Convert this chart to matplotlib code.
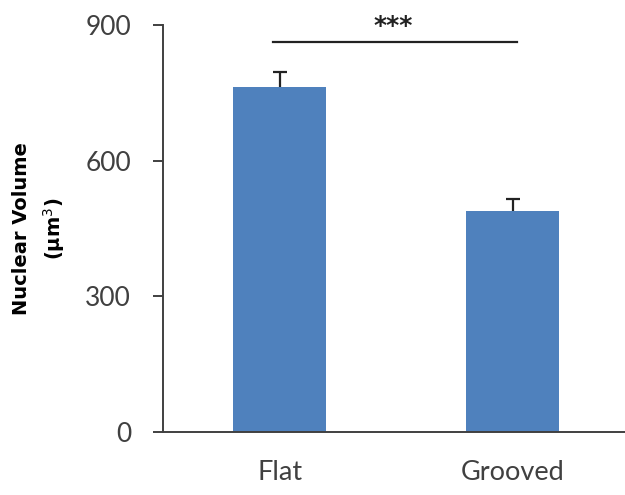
import matplotlib
matplotlib.use("Agg")
import matplotlib.pyplot as plt

categories = ["Flat", "Grooved"]
values = [762, 488]
errors_up = [35, 28]
yticks = [0, 300, 600, 900]
sig_label = "***"

bar_color = "#4F81BD"
text_color = "#404040"

fig = plt.figure(figsize=(6.25, 4.95), dpi=100)
ax = fig.add_axes([0.2608, 0.1273, 0.746, 0.8222])

x = list(range(len(categories)))
ax.bar(x, values, width=0.40, color=bar_color, zorder=2)
eb = ax.errorbar(x, values, yerr=[[0, 0], errors_up], fmt="none", ecolor="#222222",
                 elinewidth=1.6, capsize=5, capthick=1.6, zorder=1)
caplines = eb[1]
if len(caplines) >= 1:
    caplines[0].set_visible(False)

ax.set_xlim(-0.5, 1.5)
ax.set_ylim(0, 900)
ax.set_yticks(yticks)
ax.set_yticklabels([str(v) for v in yticks], fontsize=19, color=text_color, family="Lato")
ax.set_xticks(x)
ax.set_xticklabels(categories, fontsize=19.5, color=text_color, family="Lato")
ax.tick_params(axis="y", length=7, width=1.4, color=text_color, pad=16)
ax.tick_params(axis="x", length=0, pad=20)

for s in ["top", "right"]:
    ax.spines[s].set_visible(False)
for s in ["left", "bottom"]:
    ax.spines[s].set_color(text_color)
    ax.spines[s].set_linewidth(1.4)

# significance
ax.plot([-0.03, 1.02], [862, 862], color="#222222", lw=1.6, clip_on=False)
ax.text(0.486, 897, sig_label, ha="center", va="center", fontsize=18,
        fontweight="bold", color="#222222", clip_on=False)

fig.text(0.035, 0.538, "Nuclear Volume", rotation=90, ha="center", va="center",
         fontsize=14, fontweight="bold", color="black")
fig.text(0.087, 0.538, "(μm$^{3}$)", rotation=90, ha="center", va="center",
         fontsize=14, fontweight="bold", color="black")

fig.savefig("out.png", dpi=100)
